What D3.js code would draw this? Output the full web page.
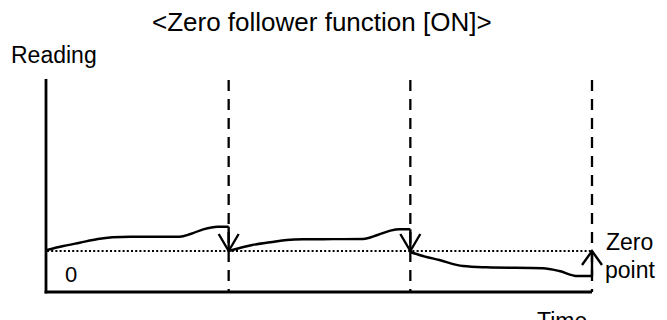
<!DOCTYPE html>
<html>
<head>
<meta charset="utf-8">
<script src="https://cdn.jsdelivr.net/npm/d3@7"></script>
<style>
  html, body { margin: 0; padding: 0; background: #fff; }
  svg { display: block; }
  text { font-family: "Liberation Sans", Arial, sans-serif; fill: #000; }
</style>
</head>
<body>
<svg id="chart" width="667" height="320"></svg>
<script>
// ---- data ----
const title = "<Zero follower function [ON]>";
const yLabel = "Reading";
const xLabel = "Time";
const zeroLabel = "0";
const zeroPointLabel = ["Zero", "point"];

// reading drift between zero-follow resets (time in reset periods, reading in arbitrary units)
const seg1Time  = [0, 0.09, 0.18, 0.28, 0.36, 0.46, 0.73, 0.79, 0.86, 0.94, 1.0];
const seg1Value = [0.1, 0.5, 0.83, 1.2, 1.37, 1.43, 1.43, 1.7, 2.17, 2.43, 2.43];
const seg2Time  = [1.0, 1.13, 1.23, 1.32, 1.41, 1.74, 1.82, 1.89, 1.94, 2.0];
const seg2Value = [0.0, 0.6, 0.87, 1.1, 1.17, 1.2, 1.6, 2.03, 2.17, 2.17];
const seg3Time  = [2.0, 2.05, 2.16, 2.29, 2.42, 2.73, 2.82, 2.92, 3.0];
const seg3Value = [-0.1, -0.4, -0.9, -1.5, -1.63, -1.73, -2.0, -2.5, -2.5];

// reset instants: reading is brought back to the zero point
const resetTime = [1, 2, 3];
const resetFrom = [2.43, 2.17, -2.5];
const resetTo   = [0, 0, 0];

const timeDomain = [0, 3];
const readingDomain = [-4.1, 17.2];

// ---- drawing ----
const svg = d3.select("#chart");
const x = d3.scaleLinear().domain(timeDomain).range([47, 592]);
const y = d3.scaleLinear().domain(readingDomain).range([292, 79]);

// dashed reset lines
svg.selectAll("line.reset")
  .data(resetTime)
  .join("line")
  .attr("class", "reset")
  .attr("x1", d => x(d)).attr("x2", d => x(d))
  .attr("y1", y(readingDomain[1]) + 1).attr("y2", y(readingDomain[0]))
  .attr("stroke", "#000").attr("stroke-width", 2.3)
  .attr("stroke-dasharray", "11,8");

// zero dotted line
svg.append("line")
  .attr("x1", x(timeDomain[0])).attr("x2", x(timeDomain[1]))
  .attr("y1", y(0)).attr("y2", y(0))
  .attr("stroke", "#000").attr("stroke-width", 2.2)
  .attr("stroke-dasharray", "2,2.2");

// axes
svg.append("line")
  .attr("x1", x(timeDomain[0]) - 1).attr("x2", x(timeDomain[0]) - 1)
  .attr("y1", y(readingDomain[1])).attr("y2", y(readingDomain[0]) + 1.4)
  .attr("stroke", "#000").attr("stroke-width", 2.8);
svg.append("line")
  .attr("x1", x(timeDomain[0]) - 2.4).attr("x2", x(timeDomain[1]))
  .attr("y1", y(readingDomain[0])).attr("y2", y(readingDomain[0]))
  .attr("stroke", "#000").attr("stroke-width", 2.8);

// drift curves
const line = d3.line()
  .x(d => x(d[0])).y(d => y(d[1]))
  .curve(d3.curveMonotoneX);
const segments = [
  d3.zip(seg1Time, seg1Value),
  d3.zip(seg2Time, seg2Value),
  d3.zip(seg3Time, seg3Value)
];
svg.selectAll("path.drift")
  .data(segments)
  .join("path")
  .attr("class", "drift")
  .attr("d", line)
  .attr("fill", "none").attr("stroke", "#000").attr("stroke-width", 2.4);

// reset arrows
const resets = resetTime.map((t, i) => ({ t, from: resetFrom[i], to: resetTo[i] }));
const g = svg.selectAll("g.arrow").data(resets).join("g").attr("class", "arrow");
g.append("line")
  .attr("x1", d => x(d.t)).attr("x2", d => x(d.t))
  .attr("y1", d => y(d.from)).attr("y2", d => y(d.to))
  .attr("stroke", "#000").attr("stroke-width", 2.4);
g.append("path")
  .attr("d", d => {
    const tx = x(d.t), ty = y(d.to);
    const dir = d.from > d.to ? -1 : 1; // -1: arrow pointing down
    const ah = dir < 0 ? 17 : 14;
    return `M${tx - 10},${ty + dir * ah}L${tx},${ty}L${tx + 10},${ty + dir * ah}`;
  })
  .attr("fill", "none").attr("stroke", "#000").attr("stroke-width", 2.4)
  .attr("stroke-linejoin", "miter");

// texts
svg.append("text").attr("x", 152).attr("y", 31)
  .attr("font-size", 26).text(title);
svg.append("text").attr("x", 11).attr("y", 63)
  .attr("font-size", 23).text(yLabel);
svg.append("text").attr("x", 65).attr("y", 282)
  .attr("font-size", 22).text(zeroLabel);
svg.append("text").attr("x", 606).attr("y", 250)
  .attr("font-size", 23).text(zeroPointLabel[0]);
svg.append("text").attr("x", 605).attr("y", 278)
  .attr("font-size", 23).text(zeroPointLabel[1]);
svg.append("text").attr("x", 537).attr("y", 329)
  .attr("font-size", 23).text(xLabel);
</script>
</body>
</html>
